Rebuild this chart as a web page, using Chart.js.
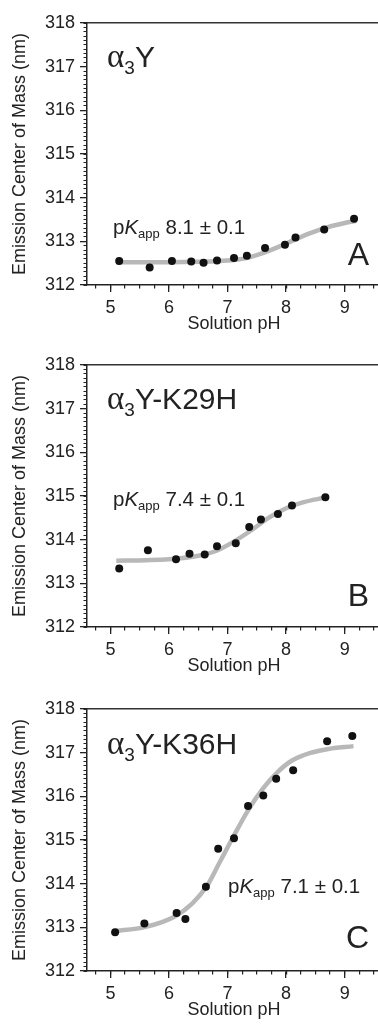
<!DOCTYPE html>
<html>
<head>
<meta charset="utf-8">
<script src="https://cdn.jsdelivr.net/npm/chart.js@4.4.1/dist/chart.umd.min.js"></script>
<style>
  html, body { margin: 0; padding: 0; background: #fff; }
  #page { position: relative; width: 378px; height: 1025px; overflow: hidden;
          font-family: "Liberation Sans", Arial, Helvetica, sans-serif; color: #222; }
  .panel { position: absolute; left: 0; width: 384px; height: 342px; }
  .name { position: absolute; left: 107px; font-size: 30px; line-height: 30px; white-space: nowrap; }
  .name .al { font-family: "Liberation Serif", "Times New Roman", serif; font-size: 33px; }
  .name sub { font-size: 19px; vertical-align: -7px; line-height: 0; }
  .pk { position: absolute; font-size: 20.5px; line-height: 20px; white-space: nowrap; }
  .pk sub { font-size: 13px; vertical-align: -4px; line-height: 0; }
  .letter { position: absolute; right: 9px; font-size: 32px; line-height: 30px; }
</style>
</head>
<body>
<div id="page">
  <div class="panel" style="top:2.7px"><canvas id="chartA"></canvas></div>
  <div class="panel" style="top:345px"><canvas id="chartB"></canvas></div>
  <div class="panel" style="top:689.3px"><canvas id="chartC"></canvas></div>

  <div class="name" style="top:40.8px"><span class="al">α</span><sub>3</sub>Y</div>
  <div class="pk" style="top:217px; left:113px">p<i>K</i><sub>app</sub> 8.1 ± 0.1</div>
  <div class="letter" style="top:238.5px">A</div>

  <div class="name" style="top:383px"><span class="al">α</span><sub>3</sub>Y-K29H</div>
  <div class="pk" style="top:489px; left:113px">p<i>K</i><sub>app</sub> 7.4 ± 0.1</div>
  <div class="letter" style="top:579.5px">B</div>

  <div class="name" style="top:727.6px"><span class="al">α</span><sub>3</sub>Y-K36H</div>
  <div class="pk" style="top:876px; left:228px">p<i>K</i><sub>app</sub> 7.1 ± 0.1</div>
  <div class="letter" style="top:921.5px">C</div>
</div>

<script>
// tick labels
const xTickValues = [5, 6, 7, 8, 9]
const yTickValues = [312, 313, 314, 315, 316, 317, 318]

// panel A: alpha3Y
const phA = [5.15, 5.67, 6.05, 6.38, 6.59, 6.82, 7.11, 7.33, 7.64, 7.98, 8.16, 8.65, 9.16]
const emA = [312.55, 312.40, 312.55, 312.54, 312.51, 312.56, 312.62, 312.67, 312.85, 312.92, 313.09, 313.27, 313.52]
const fitPhA = [5.1, 5.5, 6.0, 6.5, 7.0, 7.3, 7.6, 7.9, 8.1, 8.4, 8.7, 9.0, 9.2]
const fitEmA = [312.52, 312.52, 312.52, 312.53, 312.56, 312.61, 312.73, 312.89, 313.01, 313.18, 313.32, 313.42, 313.47]

// panel B: alpha3Y-K29H
const phB = [5.15, 5.64, 6.12, 6.35, 6.61, 6.82, 7.14, 7.37, 7.57, 7.86, 8.10, 8.67]
const emB = [313.34, 313.76, 313.55, 313.68, 313.66, 313.85, 313.92, 314.29, 314.46, 314.59, 314.78, 314.97]
const fitPhB = [5.1, 5.6, 6.0, 6.5, 6.8, 7.1, 7.4, 7.7, 8.0, 8.3, 8.65]
const fitEmB = [313.52, 313.53, 313.55, 313.63, 313.74, 313.95, 314.21, 314.50, 314.72, 314.86, 314.96]

// panel C: alpha3Y-K36H
const phC = [5.08, 5.58, 6.13, 6.28, 6.63, 6.84, 7.11, 7.35, 7.61, 7.83, 8.12, 8.70, 9.13]
const emC = [312.89, 313.09, 313.33, 313.19, 313.93, 314.80, 315.04, 315.78, 316.02, 316.40, 316.60, 317.26, 317.38]
const fitPhC = [5.05, 5.6, 6.1, 6.4, 6.65, 6.85, 7.1, 7.35, 7.6, 7.85, 8.1, 8.4, 8.7, 9.15]
const fitEmC = [312.91, 313.01, 313.25, 313.55, 313.95, 314.45, 315.08, 315.68, 316.17, 316.55, 316.82, 316.99, 317.08, 317.15]

const FONT = "'Liberation Sans', Arial, Helvetica, sans-serif"
const INK = "#222"
const X_MIN = 4.6
const X_MAX = 9.62

function steps(from, to, step) {
  const out = []
  for (let v = from; v <= to + 1e-9; v += step) out.push({ value: Math.round(v * 1000) / 1000 })
  return out
}

const xMinorTicks = steps(4.75, 9.5, 0.25)
const yMinorTicks = steps(312, 318, 0.1)

function makeChart(canvasId, ph, em, fitPh, fitEm) {
  const canvas = document.getElementById(canvasId)
  const points = ph.map((x, i) => ({ x: x, y: em[i] }))
  const fit = fitPh.map((x, i) => ({ x: x, y: fitEm[i] }))

  return new Chart(canvas, {
    type: "scatter",
    data: {
      datasets: [
        { data: points, order: 0, pointRadius: 4, pointBackgroundColor: "#111", pointBorderWidth: 0 },
        { data: fit, order: 1, showLine: true, pointRadius: 0, borderColor: "#b8b8b8", borderWidth: 4.5,
          cubicInterpolationMode: "monotone" }
      ]
    },
    options: {
      responsive: true,
      maintainAspectRatio: false,
      animation: false,
      layout: { autoPadding: false, padding: { top: 20, left: 0, right: 3, bottom: 0 } },
      plugins: { legend: { display: false }, tooltip: { enabled: false } },
      scales: {
        x: {
          type: "linear", axis: "x", position: "bottom", weight: 1, min: X_MIN, max: X_MAX,
          afterBuildTicks: s => { s.ticks = xTickValues.map(v => ({ value: v })) },
          afterFit: s => { s.height = 60 },
          grid: { drawOnChartArea: false, tickLength: 7, color: INK, lineWidth: 1.3 },
          border: { color: INK, width: 1.5 },
          ticks: { color: INK, font: { size: 18, family: FONT }, padding: 5, maxRotation: 0 },
          title: { display: true, text: "Solution pH", color: INK, font: { size: 18, family: FONT },
                   padding: { top: 0, bottom: 10 } }
        },
        xMinor: {
          type: "linear", axis: "x", position: "bottom", weight: 0, min: X_MIN, max: X_MAX,
          afterBuildTicks: s => { s.ticks = xMinorTicks.slice() },
          afterFit: s => { s.height = 0 },
          grid: { drawOnChartArea: false, tickLength: 3.5, color: INK, lineWidth: 1.2 },
          border: { display: false },
          ticks: { display: false }
        },
        xTop: {
          type: "linear", axis: "x", position: "top", min: X_MIN, max: X_MAX,
          afterFit: s => { s.height = 0 },
          grid: { drawOnChartArea: false, drawTicks: false },
          border: { color: "#333", width: 1.5 },
          ticks: { display: false }
        },
        y: {
          type: "linear", axis: "y", position: "left", weight: 1, min: 312, max: 318,
          afterBuildTicks: s => { s.ticks = yTickValues.map(v => ({ value: v })) },
          afterFit: s => { s.width = 87 },
          grid: { drawOnChartArea: false, tickLength: 7, color: INK, lineWidth: 1.3 },
          border: { color: INK, width: 1.5 },
          ticks: { color: INK, font: { size: 18, family: FONT }, padding: 5 },
          title: { display: true, text: "Emission Center of Mass (nm)", color: INK,
                   font: { size: 18, family: FONT }, padding: { top: 9, bottom: 0 } }
        },
        yMinor: {
          type: "linear", axis: "y", position: "left", weight: 0, min: 312, max: 318,
          afterBuildTicks: s => { s.ticks = yMinorTicks.slice() },
          afterFit: s => { s.width = 0 },
          grid: { drawOnChartArea: false, tickLength: 3.5, color: INK, lineWidth: 1 },
          border: { display: false },
          ticks: { display: false }
        }
      }
    }
  })
}

makeChart("chartA", phA, emA, fitPhA, fitEmA)
makeChart("chartB", phB, emB, fitPhB, fitEmB)
makeChart("chartC", phC, emC, fitPhC, fitEmC)
</script>
</body>
</html>
